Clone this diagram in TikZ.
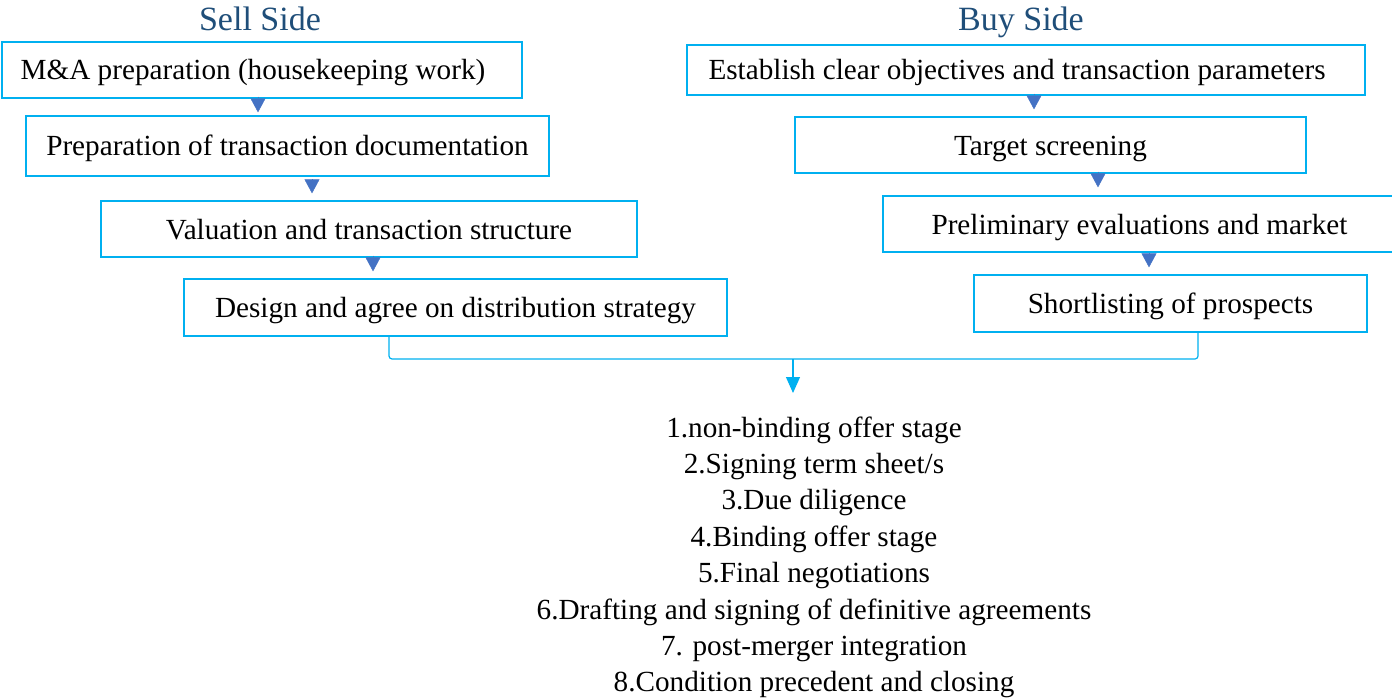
\documentclass[tikz,border=0pt]{standalone}
\usepackage{fontspec}
\setmainfont{Liberation Serif}
\usetikzlibrary{arrows.meta,positioning}
\definecolor{boxline}{RGB}{0,176,240}
\definecolor{tipblue}{RGB}{68,114,196}
\definecolor{headblue}{RGB}{31,78,121}

\begin{document}
\begin{tikzpicture}[x=1pt,y=-1pt,
  stage/.style={draw=boxline,line width=1.3pt,fill=white,inner sep=0pt,
    text height=20pt,text depth=0pt,font=\fontsize{29.2}{35}\selectfont},
  side/.style={text=headblue,font=\fontsize{34}{40}\selectfont},
  flowtip/.style 2 args={tipblue,line width=0.4pt,shorten <=#1,shorten >=#2,
    -{Triangle[width=15pt,length=14pt]}},
  link/.style={boxline,line width=1.2pt},
  steptext/.style={font=\fontsize{29.2}{35}\selectfont}]

  \useasboundingbox (0,0) rectangle (1392,698);

  % sell side
  \node[side,anchor=base] (sell) at (260,31) {Sell Side};
  \node[stage,minimum width=520pt,minimum height=56pt] (s1) at (262,70) {\hspace*{-18pt}M\&A preparation (housekeeping work)};
  \node[stage,minimum width=523pt,minimum height=60pt] (s2) at (287.5,146) {Preparation of transaction documentation};
  \node[stage,minimum width=536pt,minimum height=56pt] (s3) at (369,229) {Valuation and transaction structure};
  \node[stage,minimum width=543pt,minimum height=57pt] (s4) at (455.5,307.5) {Design and agree on distribution strategy};

  % buy side
  \node[side,anchor=base] (buy) at (1021,31) {Buy Side};
  \node[stage,minimum width=678pt,minimum height=50pt] (b1) at (1026,70) {\hspace*{-18pt}Establish clear objectives and transaction parameters};
  \node[stage,minimum width=511pt,minimum height=56pt] (b2) at (1050.5,145) {Target screening};
  \node[stage,minimum width=513pt,minimum height=56pt] (b3) at (1139.5,224) {Preliminary evaluations and market};
  \node[stage,minimum width=393pt,minimum height=57pt] (b4) at (1170.5,303.5) {Shortlisting of prospects};

  \draw[flowtip={2pt}{3pt}] ([xshift=-4pt]s1.south) -- ([xshift=-4pt]s1.south |- s2.north);
  \draw[flowtip={5pt}{7pt}] ([xshift=24.5pt]s2.south) -- ([xshift=24.5pt]s2.south |- s3.north);
  \draw[flowtip={2pt}{7pt}] ([xshift=4pt]s3.south) -- ([xshift=4pt]s3.south |- s4.north);
  \draw[flowtip={2pt}{7pt}] ([xshift=8pt]b1.south) -- ([xshift=8pt]b1.south |- b2.north);
  \draw[flowtip={2pt}{8pt}] ([xshift=47.5pt]b2.south) -- ([xshift=47.5pt]b2.south |- b3.north);
  \draw[flowtip={3pt}{7pt}] ([xshift=9.5pt]b3.south) -- ([xshift=9.5pt]b3.south |- b4.north);

  % steps of the deal
  \foreach \txt [count=\i] in {1.non-binding offer stage,2.Signing term sheet/s,3.Due diligence,
      4.Binding offer stage,5.Final negotiations,6.Drafting and signing of definitive agreements,
      7. post-merger integration,8.Condition precedent and closing}
    \node[steptext,anchor=base] (st\i) at (814,400.6+36.4*\i) {\txt};

  \coordinate (gather) at (793,359);
  \coordinate (stepin) at (793,393);
  \draw[link,rounded corners=3pt] ([xshift=-66.5pt]s4.south) |- (gather) -| ([xshift=27.5pt]b4.south);
  \draw[link,-{Triangle[width=14pt,length=16pt]}] (gather) -- (stepin);

\end{tikzpicture}
\end{document}
